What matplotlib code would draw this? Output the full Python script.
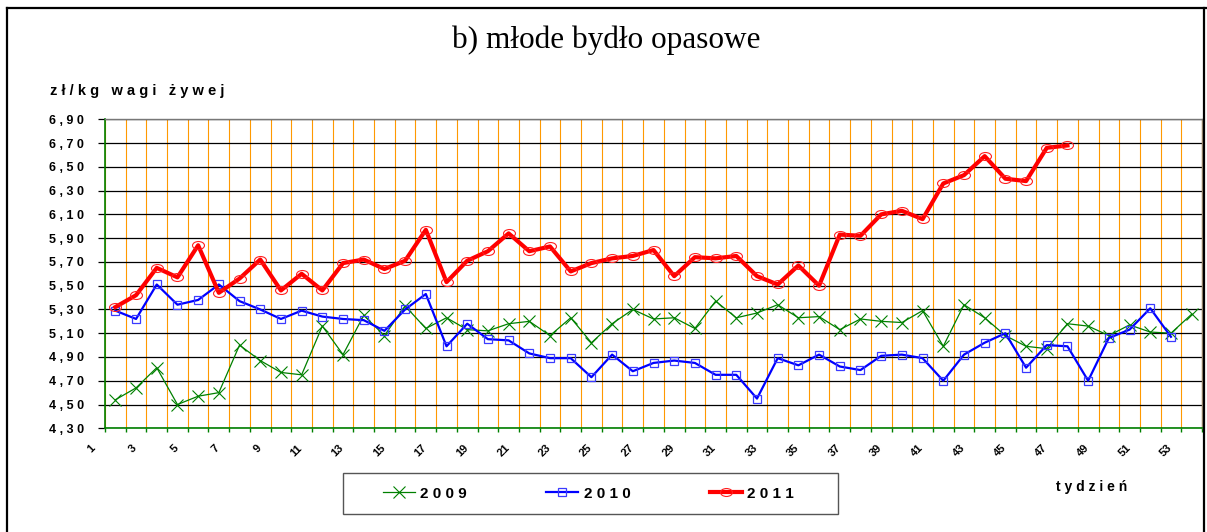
import matplotlib
matplotlib.use("Agg")
import matplotlib.pyplot as plt
from matplotlib.lines import Line2D
from matplotlib.patches import Rectangle
from matplotlib.path import Path
from matplotlib.transforms import Affine2D, ScaledTranslation
from matplotlib.ticker import FixedLocator, FuncFormatter

# weekly prices, zł/kg live weight
weeks = list(range(1, 54))
tick_weeks = list(range(1, 54, 2))

price_2009 = [4.54, 4.64, 4.81, 4.50, 4.57, 4.60, 5.00, 4.87, 4.77, 4.75,
              5.16, 4.92, 5.25, 5.08, 5.33, 5.14, 5.23, 5.13, 5.12, 5.18,
              5.20, 5.08, 5.23, 5.02, 5.18, 5.30, 5.22, 5.23, 5.14, 5.37,
              5.23, 5.27, 5.34, 5.23, 5.24, 5.13, 5.22, 5.20, 5.19, 5.29,
              4.99, 5.34, 5.23, 5.08, 4.99, 4.97, 5.18, 5.16, 5.08, 5.17,
              5.11, 5.10, 5.26]
price_2010 = [5.29, 5.22, 5.51, 5.34, 5.38, 5.51, 5.37, 5.30, 5.22, 5.29,
              5.24, 5.22, 5.21, 5.12, 5.30, 5.43, 4.99, 5.18, 5.05, 5.04,
              4.93, 4.89, 4.89, 4.73, 4.92, 4.78, 4.85, 4.87, 4.85, 4.75,
              4.75, 4.55, 4.89, 4.83, 4.92, 4.82, 4.79, 4.91, 4.92, 4.89,
              4.70, 4.92, 5.02, 5.10, 4.81, 5.00, 4.99, 4.70, 5.06, 5.13,
              5.31, 5.07]
price_2011 = [5.32, 5.42, 5.65, 5.57, 5.84, 5.44, 5.56, 5.72, 5.46, 5.60,
              5.46, 5.69, 5.72, 5.64, 5.71, 5.97, 5.53, 5.71, 5.79, 5.94,
              5.79, 5.83, 5.62, 5.69, 5.73, 5.75, 5.80, 5.58, 5.74, 5.73,
              5.75, 5.58, 5.51, 5.67, 5.50, 5.93, 5.92, 6.10, 6.13, 6.06,
              6.36, 6.43, 6.59, 6.40, 6.38, 6.66, 6.68]

series_labels = ["2009", "2010", "2011"]
y_ticks = [4.30 + 0.20 * i for i in range(14)]

title_text = "b) młode bydło opasowe"
ylabel_text = "zł/kg wagi żywej"
xlabel_text = "tydzień"

SANS = ["Liberation Sans", "DejaVu Sans"]


def spaced(s):
    """Spread characters apart the way the chart's labels are typeset."""
    return " ".join(s)


plt.rcParams["font.family"] = SANS

W, H = 1207, 532
fig = plt.figure(figsize=(W / 100, H / 100), dpi=100)
fig.patch.set_facecolor("white")

left, right, top, bottom = 105, 1202, 119.3, 428.3
ax = fig.add_axes([left / W, 1 - bottom / H, (right - left) / W, (bottom - top) / H])

ax.set_xlim(0.5, 53.5)
ax.set_ylim(4.30, 6.90)

# grid: orange week separators, black price lines
ax.xaxis.set_minor_locator(FixedLocator([w + 0.5 for w in range(0, 54)]))
ax.set_xticks(tick_weeks)
ax.set_xticklabels([str(w) for w in tick_weeks])
ax.grid(which="minor", axis="x", color="#FF9900", lw=0.8, zorder=0)
ax.yaxis.set_major_locator(FixedLocator(y_ticks))
ax.yaxis.set_major_formatter(FuncFormatter(lambda v, p: spaced(f"{v:.2f}".replace(".", ","))))
ax.grid(which="major", axis="y", color="black", lw=0.9, zorder=0)
ax.set_axisbelow(True)

for s in ("left", "bottom"):
    ax.spines[s].set_color("#008000")
    ax.spines[s].set_linewidth(1.2)
ax.spines["top"].set_color("#777777")
ax.spines["top"].set_linewidth(1.0)
ax.spines["right"].set_color("#9a8a70")
ax.spines["right"].set_linewidth(1.0)

ax.tick_params(axis="x", which="major", length=0, pad=0)
ax.tick_params(axis="x", which="minor", length=3, color="#008000", width=1)
ax.tick_params(axis="y", which="major", length=5, width=0.9, color="black", pad=10)
for lab in ax.get_yticklabels():
    lab.set_fontfamily(SANS)
    lab.set_fontsize(9)
    lab.set_fontweight("bold")

offset = ScaledTranslation(-21.5 / 100, -18 / 100, fig.dpi_scale_trans)
for lab in ax.get_xticklabels():
    lab.set_rotation(45)
    lab.set_rotation_mode("anchor")
    lab.set_ha("right")
    lab.set_va("center")
    lab.set_fontfamily(SANS)
    lab.set_fontsize(8)
    lab.set_fontweight("bold")
    lab.set_transform(lab.get_transform() + offset)

# series
ellipse = Path.unit_circle().transformed(Affine2D().scale(1.5, 1.0))
l09, = ax.plot(weeks[:len(price_2009)], price_2009, color="#008000", lw=0.9,
               marker="x", ms=8.5, mew=0.8, zorder=3)
l10, = ax.plot(weeks[:len(price_2010)], price_2010, color="#0000FF", lw=1.6,
               marker="s", ms=6, mfc="none", mec="#3a3aff", mew=0.9, zorder=4)
l11, = ax.plot(weeks[:len(price_2011)], price_2011, color="#FF0000", lw=3.0,
               marker=ellipse, ms=8.6, mfc="none", mec="#FF2020", mew=0.8, zorder=5)

# texts
fig.text(606.5 / W, 1 - 40 / H, title_text, ha="center", va="center",
         fontsize=22.5, family=["Liberation Serif", "DejaVu Serif"])
fig.text(50 / W, 1 - 91 / H, spaced(ylabel_text), ha="left", va="center",
         fontsize=10.5, fontweight="bold", family=SANS)
fig.text(1092 / W, 1 - 487 / H, spaced(xlabel_text), ha="center", va="center",
         fontsize=10, fontweight="bold", family=SANS)

# legend
leg = fig.legend([l09, l10, l11], [spaced(s) for s in series_labels],
                 loc="center", bbox_to_anchor=(588.5 / W, 1 - 493.5 / H),
                 ncol=3, frameon=False, handlelength=2.1, handletextpad=0.35,
                 columnspacing=5.2, numpoints=1,
                 prop={"weight": "bold", "size": 11, "family": SANS})
fig.patches.append(Rectangle((343 / W, 1 - 514 / H), (838 - 343) / W, (514 - 473) / H,
                             transform=fig.transFigure, fill=False,
                             edgecolor="#555555", lw=1.0))

# outer frame
fig.add_artist(Line2D([7 / W, 7 / W], [0, 1 - 8 / H], transform=fig.transFigure,
                      color="black", lw=1.6))
fig.add_artist(Line2D([7 / W, 1], [1 - 8 / H, 1 - 8 / H], transform=fig.transFigure,
                      color="black", lw=1.6))
fig.add_artist(Line2D([1204 / W, 1204 / W], [0, 1 - 8 / H], transform=fig.transFigure,
                      color="black", lw=1.6))

fig.savefig("out.png", dpi=100, facecolor="white")
